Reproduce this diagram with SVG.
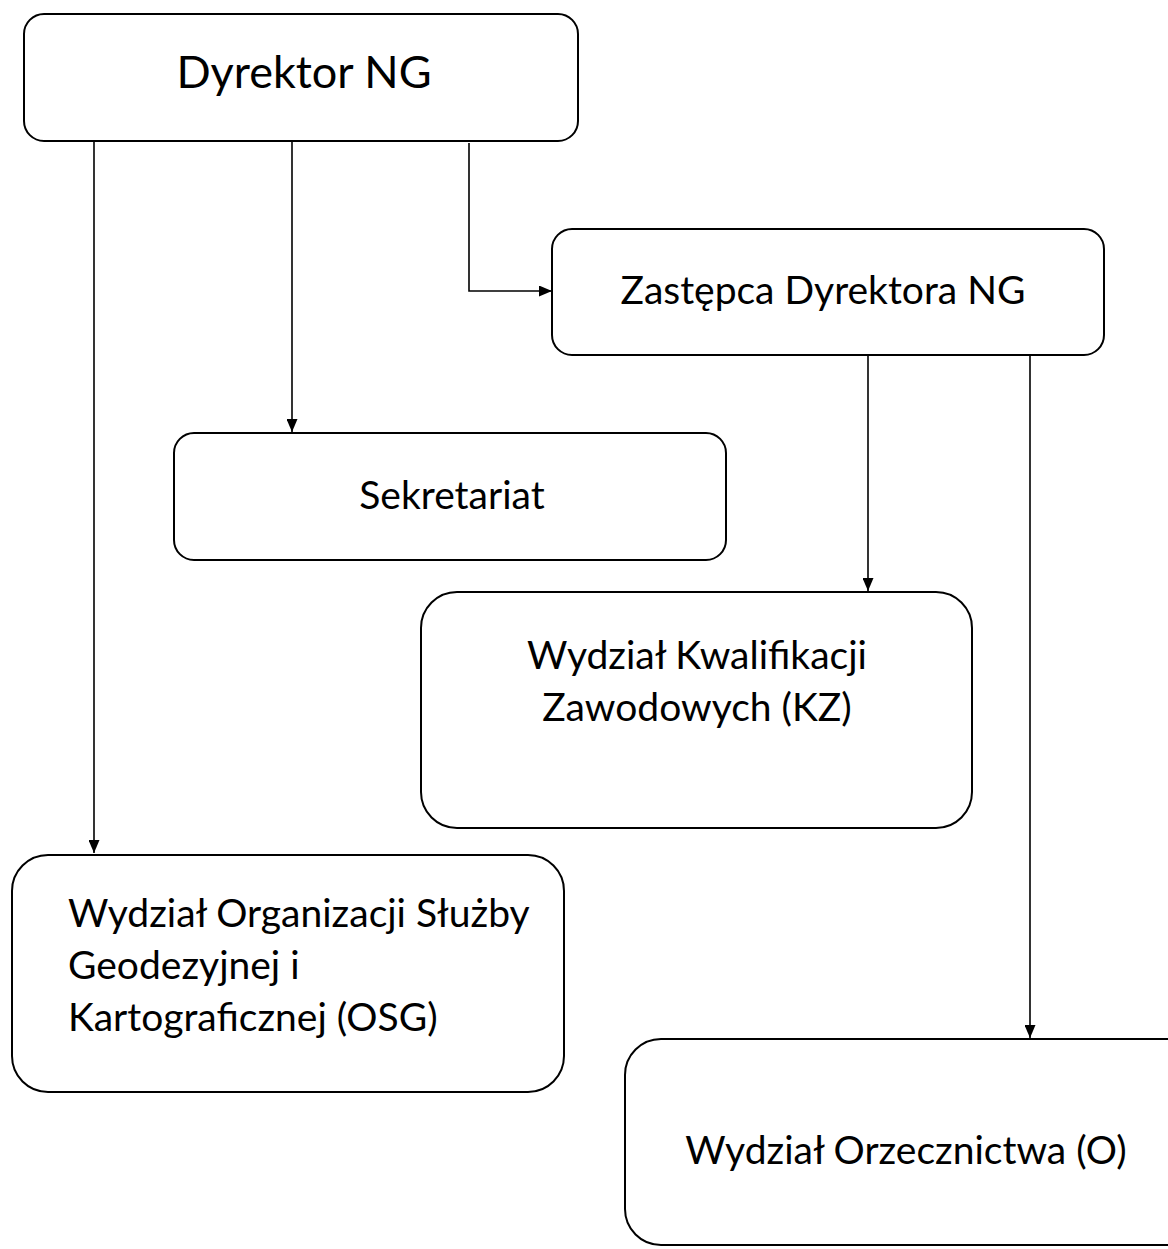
<svg xmlns="http://www.w3.org/2000/svg" width="1168" height="1249" viewBox="0 0 1168 1249">
<style>
.box{fill:#fff;stroke:#000;stroke-width:2}
.t{font-family:Lato,"Open Sans",sans-serif;fill:#000;font-size:39px}
.c{text-anchor:middle}
.ln{fill:none;stroke:#000;stroke-width:1.6}
</style>
<defs>
<marker id="ah" viewBox="0 0 13 11" refX="13" refY="5.5" markerWidth="13" markerHeight="11" markerUnits="userSpaceOnUse" orient="auto">
<path d="M0,0 L13,5.5 L0,11 Z" fill="#000"/>
</marker>
</defs>
<rect width="1168" height="1249" fill="#fff"/>
<g id="connectors">
<path class="ln" d="M94,141 V853" marker-end="url(#ah)"/>
<path class="ln" d="M292,142 V432" marker-end="url(#ah)"/>
<path class="ln" d="M469,143 V291 H552" marker-end="url(#ah)"/>
<path class="ln" d="M868,356 V591" marker-end="url(#ah)"/>
<path class="ln" d="M1030,356 V1038" marker-end="url(#ah)"/>
</g>
<g id="dyrektor">
<rect class="box" x="24" y="14" width="554" height="127" rx="20"/>
<text class="t c" x="304" y="88" style="font-size:45px">Dyrektor NG</text>
</g>
<g id="zastepca">
<rect class="box" x="552" y="229" width="552" height="126" rx="20"/>
<text class="t c" x="823" y="304">Zastępca Dyrektora NG</text>
</g>
<g id="sekretariat">
<rect class="box" x="174" y="433" width="552" height="127" rx="20"/>
<text class="t c" x="452" y="509">Sekretariat</text>
</g>
<g id="kz">
<rect class="box" x="421" y="592" width="551" height="236" rx="36"/>
<text class="t c" x="697" y="669">Wydział Kwalifikacji</text>
<text class="t c" x="697" y="721">Zawodowych (KZ)</text>
</g>
<g id="osg">
<rect class="box" x="12" y="855" width="552" height="237" rx="36"/>
<text class="t" x="68" y="927">Wydział Organizacji Służby</text>
<text class="t" x="68" y="979">Geodezyjnej i</text>
<text class="t" x="68" y="1031">Kartograficznej (OSG)</text>
</g>
<g id="orzecznictwo">
<rect class="box" x="625" y="1039" width="580" height="206" rx="36"/>
<text class="t c" x="906" y="1164">Wydział Orzecznictwa (O)</text>
</g>
</svg>
